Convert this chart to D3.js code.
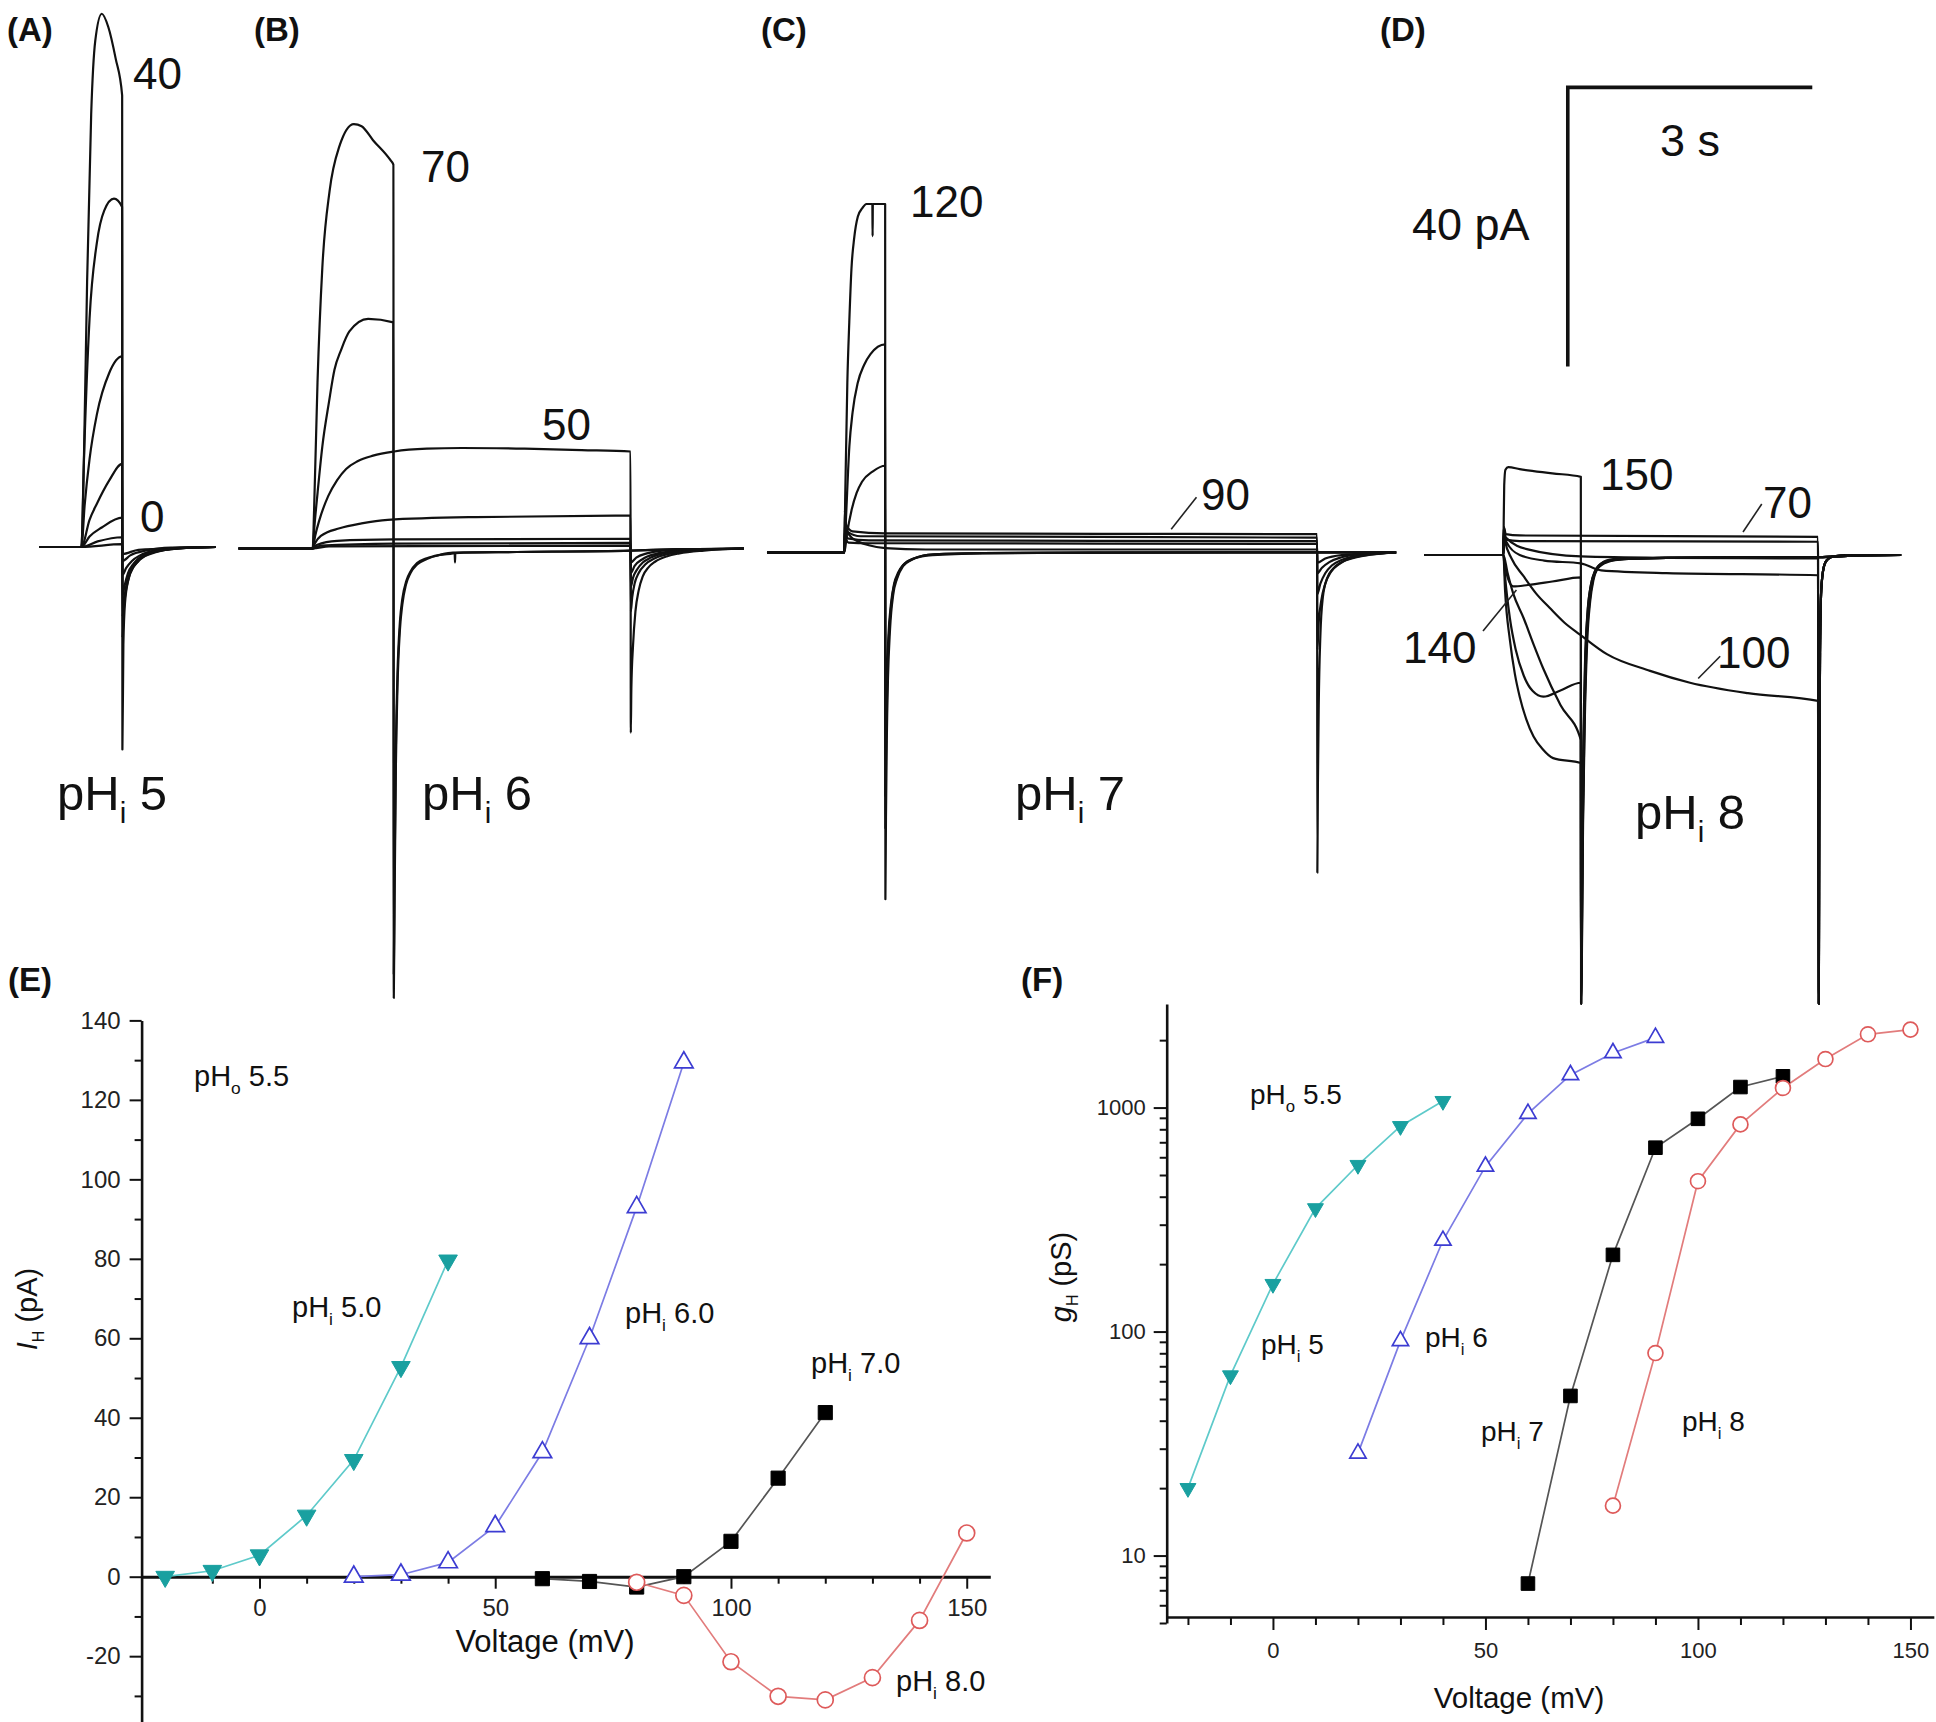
<!DOCTYPE html>
<html><head><meta charset="utf-8">
<script src="https://cdn.jsdelivr.net/npm/d3@7"></script>
<style>
html,body{margin:0;padding:0;background:#fff;}
svg{display:block;font-family:"Liberation Sans",Arial,Helvetica,sans-serif;}
text{white-space:pre;}
</style></head><body>
<svg id="fig" width="1936" height="1722"></svg>
<script>
// ================= DATA =================
// Panel E : I_H (pA) vs voltage (mV)
const voltE5 = [-20,-10,0,10,20,30,40];
const currE5 = [0,1.5,5.4,15.4,29.4,52.8,79.6];
const voltE6 = [20,30,40,50,60,70,80,90];
const currE6 = [0,0.5,3.6,12.7,31.3,60,93,129.4];
const voltE7 = [60,70,80,90,100,110,120];
const currE7 = [-0.5,-1.2,-2.6,0,8.9,24.8,41.3];
const voltE8 = [80,90,100,110,120,130,140,150];
const currE8 = [-1.4,-4.7,-21.4,-30.1,-31,-25.4,-11,11];
// Panel F : g_H (pS) vs voltage (mV)
const gF5 = [20,63.7,163,355,554,826,1069];
const gF6 = [28.6,90.9,255,546,940,1399,1754,2053];
const gF7 = [7.5,51.6,220,662,891,1235,1379];
const gF8 = [16.7,80.2,469,841,1223,1647,2124,2229];
// tick values
const E_yMajor = [-20,0,20,40,60,80,100,120,140];
const E_yMinor = [-30,-10,10,30,50,70,90,110,130];
const xMajor = [0,50,100,150];
const xMinor = [-20,-10,10,20,30,40,60,70,80,90,110,120,130,140];
const F_yMajor = [10,100,1000];
const F_yMinor = [5,6,7,8,9,20,30,40,50,60,70,80,90,200,300,400,500,600,700,800,900,2000];

// Current traces: [time (s) from pulse onset, current (pA)]
const tracesA = [
 {mV:40, pts:[[0,0],[0.03,12],[0.07,38],[0.12,62],[0.17,72.5],[0.25,76.4],[0.33,74.5],[0.42,70],[0.5,64.7],[0.503,-29],[0.515,-14],[0.535,-8],[0.58,-4.5],[0.66,-2.2],[0.8,-1],[1.0,-0.4],[1.3,-0.1],[1.65,0]]},
 {mV:30, pts:[[0,0],[0.03,12],[0.1,32.7],[0.19,43.6],[0.28,48.2],[0.4,49.9],[0.5,48.7],[0.503,-13],[0.52,-9],[0.55,-6],[0.6,-3.8],[0.7,-2],[0.85,-0.9],[1.1,-0.3],[1.65,0]]},
 {mV:20, pts:[[0,0],[0.04,6],[0.1,12.6],[0.19,19],[0.34,24.9],[0.5,27.3],[0.503,-10],[0.525,-7.5],[0.56,-5],[0.62,-3.2],[0.72,-1.8],[0.9,-0.8],[1.2,-0.2],[1.65,0]]},
 {mV:10, pts:[[0,0],[0.1,3.9],[0.19,6.2],[0.34,9.5],[0.5,11.9],[0.503,-7],[0.53,-5.5],[0.57,-3.8],[0.64,-2.4],[0.75,-1.3],[0.95,-0.5],[1.3,-0.1],[1.65,0]]},
 {mV:0, pts:[[0,0],[0.1,1.5],[0.25,2.8],[0.5,4.2],[0.503,-4],[0.55,-3],[0.62,-2],[0.72,-1.2],[0.9,-0.5],[1.2,-0.1],[1.65,0]]},
 {mV:-10, pts:[[0,0],[0.2,0.8],[0.5,1.4],[0.503,-2],[0.6,-1.2],[0.8,-0.5],[1.1,-0.1],[1.65,0]]},
 {mV:-20, pts:[[0,0],[0.5,0.4],[0.503,-1],[0.7,-0.4],[1.65,0]]}
];
const tracesB = [
 {mV:70, pts:[[0,0],[0.017,5.5],[0.059,23.8],[0.118,40.2],[0.207,51.2],[0.327,57.6],[0.505,60.8],[0.6,60.5],[0.74,58.5],[0.95,55.7],[0.99,55],[0.995,-64.4],[1.005,-50],[1.02,-32],[1.04,-20],[1.07,-11.7],[1.1,-8],[1.144,-5.2],[1.2,-3.5],[1.28,-2.3],[1.4,-1.5],[1.56,-0.93],[1.72,-0.7],[1.742,-0.65],[1.746,-2],[1.75,-0.65],[2.5,-0.5],[3.9,-0.3],[4.5,-0.1],[5.29,0]]},
 {mV:60, pts:[[0,0],[0.02,3],[0.06,8],[0.118,14.6],[0.2,21],[0.267,25.6],[0.35,28.5],[0.45,31.1],[0.68,32.9],[0.99,32.4],[0.995,-61],[1.005,-46],[1.02,-29],[1.04,-18],[1.07,-10.5],[1.1,-7.2],[1.15,-4.6],[1.2,-3.3],[1.28,-2.1],[1.4,-1.4],[1.56,-0.9],[1.72,-0.6],[2.5,-0.5],[3.9,-0.3],[4.5,-0.1],[5.29,0]]},
 {mV:50, pts:[[0,0],[0.03,1.8],[0.08,4],[0.19,7.5],[0.3,9.8],[0.41,11.4],[0.55,12.5],[0.74,13.3],[1.0,13.9],[1.4,14.3],[1.83,14.4],[2.6,14.3],[3.3,14.1],[3.9,13.9],[3.903,-26.4],[3.91,-20],[3.93,-14],[3.96,-9],[4.0,-6],[4.05,-4],[4.12,-2.7],[4.2,-1.9],[4.35,-1.1],[4.5,-0.7],[4.8,-0.3],[5.29,0]]},
 {mV:40, pts:[[0,0],[0.03,0.8],[0.1,1.8],[0.33,2.9],[0.6,3.6],[0.92,4.1],[2,4.5],[3.9,4.7],[3.903,-9],[3.92,-7],[3.95,-5],[4.0,-3.5],[4.08,-2.3],[4.2,-1.4],[4.4,-0.7],[4.7,-0.3],[5.29,0]]},
 {mV:30, pts:[[0,0],[0.05,0.5],[0.3,1.1],[1,1.3],[3.9,1.4],[3.903,-5.5],[3.93,-4.2],[3.98,-3],[4.05,-2],[4.15,-1.3],[4.35,-0.6],[4.7,-0.2],[5.29,0]]},
 {mV:20, pts:[[0,0],[0.1,0.4],[1,0.7],[3.9,0.8],[3.903,-3.5],[3.95,-2.5],[4.05,-1.5],[4.2,-0.8],[4.5,-0.3],[5.29,0]]},
 {mV:10, pts:[[0,0],[0.2,0.3],[3.9,0.4],[3.903,-2],[3.97,-1.3],[4.1,-0.7],[4.4,-0.2],[5.29,0]]}
];
const tracesC = [
 {mV:120, pts:[[0,0],[0.01,8],[0.036,24.3],[0.06,33],[0.087,40.7],[0.12,45],[0.165,48.1],[0.22,49.3],[0.27,49.9],[0.343,49.9],[0.346,45.3],[0.349,49.9],[0.5,49.9],[0.503,-49.7],[0.51,-38],[0.52,-27],[0.535,-18],[0.56,-11],[0.6,-6],[0.645,-3.8],[0.72,-2],[0.82,-1.1],[0.95,-0.6],[1.08,-0.4],[1.7,-0.15],[3,-0.05],[6.77,0]]},
 {mV:110, pts:[[0,0],[0.02,5],[0.061,15.2],[0.1,20],[0.164,24.3],[0.24,26.8],[0.32,28.4],[0.5,29.8],[0.503,-39.6],[0.51,-30],[0.52,-22],[0.535,-15],[0.56,-9.5],[0.6,-5.3],[0.65,-3.4],[0.72,-1.8],[0.83,-1],[0.96,-0.5],[1.1,-0.3],[1.7,-0.12],[3,-0.05],[6.77,0]]},
 {mV:100, pts:[[0,0],[0.03,2.5],[0.087,6],[0.15,8.5],[0.216,10.1],[0.35,11.6],[0.5,12.4],[0.503,-35],[0.51,-26],[0.52,-19],[0.54,-12],[0.57,-7.5],[0.61,-4.5],[0.66,-2.9],[0.74,-1.6],[0.85,-0.9],[0.98,-0.45],[1.1,-0.3],[1.7,-0.1],[3,-0.04],[6.77,0]]},
 {mV:90, pts:[[0,0],[0.005,6],[0.02,4],[0.1,3],[0.5,2.7],[5.8,2.6],[5.803,-45.9],[5.81,-33],[5.82,-22],[5.84,-12],[5.87,-6.5],[5.92,-3.8],[6.0,-2.3],[6.1,-1.4],[6.25,-0.8],[6.45,-0.35],[6.77,0]]},
 {mV:80, pts:[[0,0],[0.005,4],[0.03,3],[0.2,2.3],[5.8,2.1],[5.803,-14],[5.82,-10],[5.85,-7],[5.9,-4.5],[5.97,-2.8],[6.07,-1.7],[6.2,-0.9],[6.4,-0.4],[6.77,0]]},
 {mV:70, pts:[[0,0],[0.005,3],[0.04,2],[0.3,1.7],[5.8,1.6],[5.803,-6],[5.84,-4.5],[5.9,-3],[5.98,-1.9],[6.1,-1.1],[6.3,-0.5],[6.55,-0.15],[6.77,0]]},
 {mV:60, pts:[[0,0],[0.005,2],[0.05,1.4],[0.3,1.3],[5.8,1.2],[5.803,-3],[5.86,-2.2],[5.95,-1.4],[6.1,-0.7],[6.35,-0.25],[6.77,0]]},
 {mV:50, pts:[[0,0],[0.005,3],[0.1,2],[0.3,1],[0.5,0.6],[1.0,0.4],[5.8,0.4],[5.803,-1.5],[5.9,-0.9],[6.1,-0.4],[6.77,0]]}
];
const tracesD = [
 {mV:150, pts:[[0,0],[0.004,5],[0.01,10],[0.025,12.2],[0.06,12.6],[0.2,12.3],[0.6,11.7],[0.95,11.2],[0.953,-64.3],[0.965,-45],[0.98,-28],[1.0,-16],[1.03,-8.5],[1.07,-4.5],[1.12,-2.4],[1.2,-1.2],[1.35,-0.6],[2,-0.4],[3.87,-0.3],[4.3,-0.1],[4.88,0]]},
 {mV:140, pts:[[0,0],[0.02,-1.5],[0.06,-3.5],[0.12,-4.5],[0.3,-4.3],[0.6,-3.8],[0.95,-3.2],[0.953,-64.3],[0.968,-42],[0.985,-26],[1.005,-15],[1.035,-8],[1.075,-4.2],[1.13,-2.2],[1.22,-1.1],[1.4,-0.6],[2,-0.4],[3.87,-0.3],[4.3,-0.1],[4.88,0]]},
 {mV:130, pts:[[0,0],[0.02,-3],[0.08,-9.1],[0.15,-13.5],[0.25,-17.3],[0.36,-19.5],[0.49,-20.3],[0.7,-19.4],[0.95,-18.3],[0.953,-64.3],[0.972,-40],[0.99,-25],[1.012,-14],[1.045,-7.5],[1.085,-4],[1.14,-2.1],[1.24,-1],[1.42,-0.6],[2,-0.4],[3.87,-0.3],[4.3,-0.1],[4.88,0]]},
 {mV:120, pts:[[0,0],[0.02,-5],[0.08,-12.2],[0.14,-17],[0.2,-20.3],[0.28,-23.5],[0.37,-26],[0.48,-27.8],[0.61,-29.1],[0.95,-29.8],[0.953,-64.3],[0.976,-38],[0.995,-24],[1.02,-13],[1.055,-7],[1.095,-3.8],[1.15,-2],[1.26,-1],[1.45,-0.6],[2,-0.4],[3.87,-0.3],[4.3,-0.1],[4.88,0]]},
 {mV:110, pts:[[0,0],[0.05,-2.5],[0.12,-5.5],[0.25,-9.1],[0.37,-12.8],[0.49,-16.3],[0.7,-21.5],[0.95,-26.5],[0.953,-64.3],[0.98,-36],[1.0,-23],[1.028,-12.5],[1.065,-6.6],[1.105,-3.6],[1.16,-1.9],[1.28,-1],[1.48,-0.6],[2,-0.4],[3.87,-0.3],[4.3,-0.1],[4.88,0]]},
 {mV:100, pts:[[0,0],[0.005,3],[0.02,2],[0.1,-0.5],[0.245,-3],[0.4,-5.5],[0.57,-7.6],[0.75,-9.7],[0.94,-11.4],[1.27,-14.2],[1.8,-16.6],[2.29,-18.3],[3.0,-19.8],[3.86,-20.9],[3.87,-64.3],[3.876,-35],[3.885,-14],[3.9,-5],[3.93,-1.8],[3.97,-0.7],[4.05,-0.2],[4.3,0],[4.88,0]]},
 {mV:90, pts:[[0,0],[0.005,3.5],[0.03,2],[0.2,0],[0.5,-0.8],[0.95,-1.2],[1.2,-2.2],[2,-2.6],[3.86,-2.9],[3.87,-64.3],[3.876,-35],[3.885,-14],[3.9,-5],[3.93,-1.8],[3.97,-0.7],[4.05,-0.2],[4.3,0],[4.88,0]]},
 {mV:80, pts:[[0,0],[0.004,4],[0.03,2.5],[0.3,0.8],[0.95,-0.2],[2,-0.4],[3.86,-0.5],[3.87,-64.3],[3.876,-35],[3.885,-14],[3.9,-5],[3.93,-1.8],[3.97,-0.7],[4.05,-0.2],[4.3,0],[4.88,0]]},
 {mV:70, pts:[[0,0],[0.005,4],[0.03,3],[0.2,2.8],[3.86,2.6],[3.87,-64.3],[3.876,-35],[3.885,-14],[3.9,-5],[3.93,-1.8],[3.97,-0.7],[4.05,-0.2],[4.3,0],[4.88,0]]},
 {mV:60, pts:[[0,0],[0.005,3],[0.03,2.2],[0.2,2],[3.86,1.9],[3.87,-64.3],[3.876,-35],[3.885,-14],[3.9,-5],[3.93,-1.8],[3.97,-0.7],[4.05,-0.2],[4.3,0],[4.88,0]]}
];
// recording start times (s, relative to onset)
const traceStart = {A:-0.52, B:-0.91, C:-0.95, D:-0.97};
// scale bar values
const scaleBarPA = 40, scaleBarSec = 3;

// ================= LAYOUT =================
const svg = d3.select("#fig");
const FONT = '"Liberation Sans",Arial,Helvetica,sans-serif';
const pxPerSec = 81.5, pxPerPA = 6.98;
const panelLayout = {
  A:{onsetX:81.4, baseY:547, traces:tracesA},
  B:{onsetX:312.7, baseY:548.5, traces:tracesB},
  C:{onsetX:844.4, baseY:552.3, traces:tracesC},
  D:{onsetX:1503.4, baseY:555, traces:tracesD}
};

function richText(g, x, y, size, parts, opts={}){
  const t = g.append("text").attr("x",x).attr("y",y).attr("font-size",size)
    .attr("text-anchor",opts.anchor||"start").attr("fill",opts.fill||"#111")
    .attr("font-family",FONT);
  if(opts.transform) t.attr("transform",opts.transform);
  if(opts.weight) t.attr("font-weight",opts.weight);
  let sub=false;
  parts.forEach(p=>{
    const ts=t.append("tspan").text(p.t);
    if(p.italic) ts.attr("font-style","italic");
    if(p.sub){ ts.attr("font-size",size*(opts.subScale||0.6)).attr("dy",size*(opts.subDy||0.28)); sub=true; }
    else if(sub){ ts.attr("dy",-size*(opts.subDy||0.28)); sub=false; }
  });
  return t;
}

// ---------- Trace panels ----------
const scalesTrace = {};
Object.entries(panelLayout).forEach(([k,p])=>{
  const x = d3.scaleLinear().domain([0,1]).range([p.onsetX, p.onsetX+pxPerSec]);
  const y = d3.scaleLinear().domain([0,1]).range([p.baseY, p.baseY-pxPerPA]);
  scalesTrace[k]={x,y};
  const line = d3.line().x(d=>x(d[0])).y(d=>y(d[1])).curve(d3.curveMonotoneX);
  const g = svg.append("g").attr("class","traces-"+k);
  p.traces.slice().reverse().forEach(tr=>{
    g.append("path").attr("d", line([[traceStart[k],0], ...tr.pts]))
      .attr("fill","none").attr("stroke","#111").attr("stroke-width",2.2)
      .attr("stroke-linejoin","round");
  });
});

// leader lines (data coordinates of each panel)
const leaders = [
  {p:"C", a:[4.01,3.3], b:[4.32,7.9]},
  {p:"D", a:[2.94,3.3], b:[3.17,7.3]},
  {p:"D", a:[2.39,-17.7], b:[2.66,-14.5]},
  {p:"D", a:[-0.25,-10.9], b:[0.16,-5.0]}
];
leaders.forEach(l=>{
  const s=scalesTrace[l.p];
  svg.append("line").attr("x1",s.x(l.a[0])).attr("y1",s.y(l.a[1]))
    .attr("x2",s.x(l.b[0])).attr("y2",s.y(l.b[1]))
    .attr("stroke","#222").attr("stroke-width",1.6);
});

// scale bar (panel D units)
{
  const s=scalesTrace.D, t0=0.79, i0=27;
  svg.append("path").attr("d",
    `M${s.x(t0)},${s.y(i0)}V${s.y(i0+scaleBarPA)}H${s.x(t0+scaleBarSec)}`)
    .attr("fill","none").attr("stroke","#111").attr("stroke-width",3.6);
}

// trace labels
const tl = svg.append("g");
const traceLabels = [
  ["40",133,89],["0",140,532],["70",421,182],["50",542,440],
  ["120",910,217],["90",1201,510],["150",1600,490],["70",1763,518],
  ["100",1717,668],["140",1403,663]
];
traceLabels.forEach(d=>richText(tl,d[1],d[2],44,[{t:d[0]}]));
richText(tl,1660,156,45,[{t:scaleBarSec+" s"}]);
richText(tl,1412,240,45,[{t:scaleBarPA+" pA"}]);
[["5",57,810],["6",422,810],["7",1015,810],["8",1635,829]].forEach(d=>
  richText(tl,d[1],d[2],49,[{t:"pH"},{t:"i",sub:true},{t:" "+d[0]}],{subScale:0.6,subDy:0.27}));

// panel letters
[["(A)",7,41],["(B)",254,41],["(C)",761,41],["(D)",1380,41],["(E)",8,991],["(F)",1021,991]]
 .forEach(d=>richText(tl,d[1],d[2],33,[{t:d[0]}],{weight:"bold"}));

// ---------- styling helpers for axes ----------
function styleAxis(g, fs, lw){
  g.attr("font-size",null).attr("font-family",null);
  g.select(".domain").attr("stroke","#111").attr("stroke-width",lw);
  g.selectAll(".tick line").attr("stroke","#111").attr("stroke-width",2);
  g.selectAll(".tick text").attr("font-size",fs).attr("fill","#222").attr("font-family",FONT);
}

// ---------- Panel E ----------
const xE = d3.scaleLinear().domain([-25,155]).range([141.6,141.6+180*4.715]);
const yE = d3.scaleLinear().domain([-36.5,140]).range([1576.7+36.5*3.9736,1020.4]);
const gE = svg.append("g");
// axes
const eyMaj = gE.append("g").attr("transform",`translate(${xE(-25)},0)`)
  .call(d3.axisLeft(yE).tickValues(E_yMajor).tickSize(12).tickPadding(9).tickSizeOuter(0).tickFormat(d=>String(d)));
styleAxis(eyMaj,24,2.6);
const eyMin = gE.append("g").attr("transform",`translate(${xE(-25)},0)`)
  .call(d3.axisLeft(yE).tickValues(E_yMinor).tickSize(7).tickFormat(""));
eyMin.select(".domain").remove(); styleAxis(eyMin,24,2.6);
const exMaj = gE.append("g").attr("transform",`translate(0,${yE(0)})`)
  .call(d3.axisBottom(xE).tickValues(xMajor).tickSize(12).tickPadding(10).tickSizeOuter(0).tickFormat(d=>String(d)));
styleAxis(exMaj,24,3);
const exMin = gE.append("g").attr("transform",`translate(0,${yE(0)})`)
  .call(d3.axisBottom(xE).tickValues(xMinor).tickSize(7).tickFormat(""));
exMin.select(".domain").remove(); styleAxis(exMin,24,3);

const seriesE = [
  {v:voltE5, y:currE5, line:"#5ecaca", col:"#19a0a0", sym:"down", fill:true},
  {v:voltE6, y:currE6, line:"#7c7ce4", col:"#3c3cd2", sym:"up", fill:false},
  {v:voltE7, y:currE7, line:"#555", col:"#000", sym:"square", fill:true},
  {v:voltE8, y:currE8, line:"#e27c7c", col:"#de5a5a", sym:"circle", fill:false}
];
function symPath(kind, size){
  const t = kind==="circle"?d3.symbolCircle:kind==="square"?d3.symbolSquare:d3.symbolTriangle;
  return d3.symbol().type(t).size(size)();
}
function drawSeries(g, series, xs, ys, sizes){
  series.forEach(s=>{
    const pts = s.v.map((v,i)=>[v,s.y[i]]);
    g.append("path").attr("d",d3.line().x(d=>xs(d[0])).y(d=>ys(d[1]))(pts))
      .attr("fill","none").attr("stroke",s.line).attr("stroke-width",1.7);
  });
  series.forEach(s=>{
    s.v.forEach((v,i)=>{
      const cx=xs(v), cy=ys(s.y[i]);
      g.append("path").attr("d",symPath(s.sym,sizes[s.sym]))
        .attr("transform",`translate(${cx},${cy})`+(s.sym==="down"?" rotate(180)":""))
        .attr("fill",s.fill?s.col:"#fff").attr("stroke",s.col)
        .attr("stroke-width",s.fill?1:1.7);
    });
  });
}
drawSeries(gE, seriesE, xE, yE, {down:150, up:150, square:200, circle:200});

// E texts
richText(gE,545,1652,31,[{t:"Voltage (mV)"}],{anchor:"middle"});
richText(gE,0,0,29,[{t:"I",italic:true},{t:"H",sub:true},{t:" (pA)"}],
  {anchor:"middle",transform:"translate(37,1309) rotate(-90)",subScale:0.55,subDy:0.25});
richText(gE,194,1086,29,[{t:"pH"},{t:"o",sub:true},{t:" 5.5"}]);
richText(gE,292,1317,29,[{t:"pH"},{t:"i",sub:true},{t:" 5.0"}]);
richText(gE,625,1323,29,[{t:"pH"},{t:"i",sub:true},{t:" 6.0"}]);
richText(gE,811,1373,29,[{t:"pH"},{t:"i",sub:true},{t:" 7.0"}]);
richText(gE,896,1691,29,[{t:"pH"},{t:"i",sub:true},{t:" 8.0"}]);

// ---------- Panel F ----------
const xF = d3.scaleLinear().domain([-25,155.5]).range([1166.7,1166.7+180.5*4.25]);
const yF = d3.scaleLog().domain([5,2900]).range([1623,1004]);
const gF = svg.append("g");
const fyMaj = gF.append("g").attr("transform",`translate(${xF(-25)},0)`)
  .call(d3.axisLeft(yF).tickValues(F_yMajor).tickSize(13).tickPadding(8).tickSizeOuter(0).tickFormat(d=>String(d)));
styleAxis(fyMaj,22,2.6);
const fyMin = gF.append("g").attr("transform",`translate(${xF(-25)},0)`)
  .call(d3.axisLeft(yF).tickValues(F_yMinor).tickSize(7).tickFormat(""));
fyMin.select(".domain").remove(); styleAxis(fyMin,22,2.6);
const fxMaj = gF.append("g").attr("transform",`translate(0,1617)`)
  .call(d3.axisBottom(xF).tickValues(xMajor).tickSize(13).tickPadding(12).tickSizeOuter(0).tickFormat(d=>String(d)));
styleAxis(fxMaj,22,2.6);
const fxMin = gF.append("g").attr("transform",`translate(0,1617)`)
  .call(d3.axisBottom(xF).tickValues(xMinor).tickSize(8).tickFormat(""));
fxMin.select(".domain").remove(); styleAxis(fxMin,22,2.6);

const seriesF = [
  {v:voltE5, y:gF5, line:"#5ecaca", col:"#19a0a0", sym:"down", fill:true},
  {v:voltE6, y:gF6, line:"#7c7ce4", col:"#3c3cd2", sym:"up", fill:false},
  {v:voltE7, y:gF7, line:"#555", col:"#000", sym:"square", fill:true},
  {v:voltE8, y:gF8, line:"#e27c7c", col:"#de5a5a", sym:"circle", fill:false}
];
drawSeries(gF, seriesF, xF, yF, {down:110, up:115, square:185, circle:175});

richText(gF,1519,1708,29.5,[{t:"Voltage (mV)"}],{anchor:"middle"});
richText(gF,0,0,29,[{t:"g",italic:true},{t:"H",sub:true},{t:" (pS)"}],
  {anchor:"middle",transform:"translate(1071,1277) rotate(-90)",subScale:0.55,subDy:0.25});
richText(gF,1250,1104,28,[{t:"pH"},{t:"o",sub:true},{t:" 5.5"}]);
richText(gF,1261,1354,28,[{t:"pH"},{t:"i",sub:true},{t:" 5"}]);
richText(gF,1425,1347,28,[{t:"pH"},{t:"i",sub:true},{t:" 6"}]);
richText(gF,1481,1441,28,[{t:"pH"},{t:"i",sub:true},{t:" 7"}]);
richText(gF,1682,1431,28,[{t:"pH"},{t:"i",sub:true},{t:" 8"}]);
</script></body></html>
